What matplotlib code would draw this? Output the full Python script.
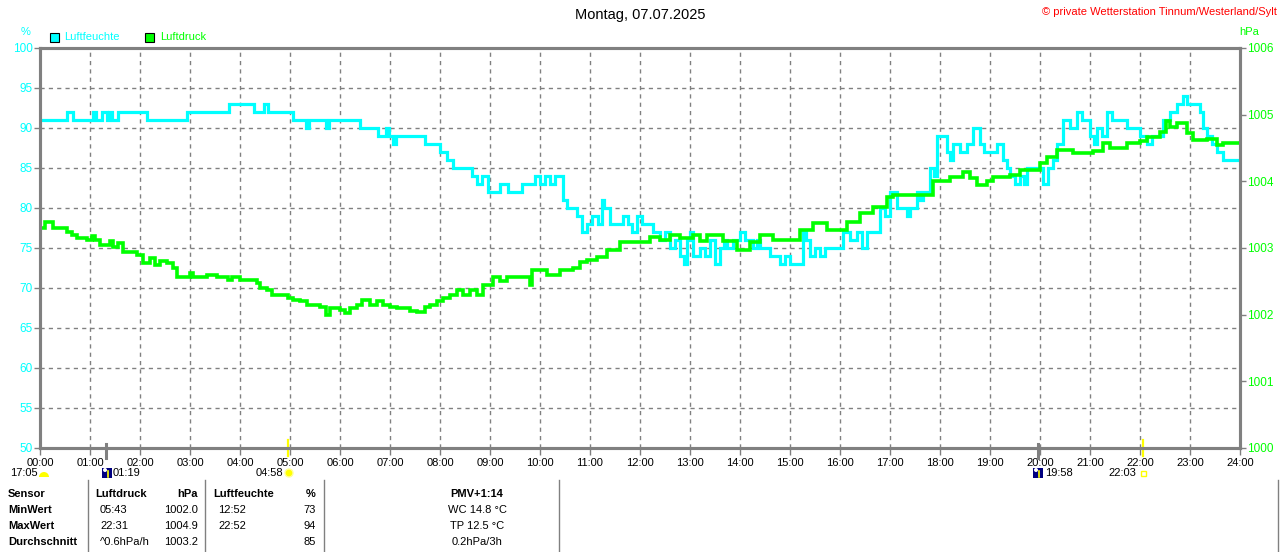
import matplotlib
matplotlib.use("Agg")
import matplotlib.pyplot as plt
from matplotlib.patches import Rectangle, Circle, Wedge
from matplotlib.lines import Line2D
from matplotlib.transforms import blended_transform_factory, IdentityTransform

plt.rcParams['font.family'] = ['Liberation Sans', 'DejaVu Sans']

W, H = 1280, 552

# Luftfeuchte (%), Minuten seit 00:00
hum_min = [0, 32, 40, 64, 67, 74, 80, 83, 86, 94, 128, 176, 227, 257, 269, 274, 304, 319, 323, 343,
           347, 384, 406, 415, 419, 424, 427, 462, 480, 488, 496, 518, 524, 530, 538, 552, 562, 578,
           594, 600, 606, 612, 618, 628, 632, 644, 650, 656, 662, 670, 674, 677, 684, 700, 706, 710,
           716, 722, 736, 744, 750, 756, 762, 768, 773, 776, 780, 784, 792, 798, 804, 810, 816, 821,
           824, 832, 840, 846, 856, 860, 864, 876, 888, 894, 900, 916, 919, 924, 930, 936, 942, 964,
           972, 980, 986, 992, 1008, 1014, 1020, 1028, 1040, 1044, 1052, 1056, 1060, 1068, 1073, 1076,
           1088, 1092, 1096, 1104, 1112, 1120, 1128, 1133, 1148, 1156, 1160, 1164, 1170, 1176, 1181,
           1184, 1204, 1210, 1216, 1220, 1228, 1236, 1244, 1250, 1260, 1265, 1268, 1274, 1280, 1286,
           1304, 1320, 1328, 1334, 1348, 1356, 1364, 1372, 1376, 1392, 1396, 1400, 1406, 1412, 1420, 1440]
hum_val = [91, 92, 91, 92, 91, 92, 91, 92, 91, 92, 91, 92, 93, 92, 93, 92, 91, 90, 91, 90,
           91, 90, 89, 90, 89, 88, 89, 88, 87, 86, 85, 84, 83, 84, 82, 83, 82, 83,
           84, 83, 84, 83, 84, 81, 80, 79, 77, 78, 79, 78, 81, 80, 78, 79, 78, 77,
           79, 78, 77, 76, 77, 75, 76, 74, 73, 76, 77, 74, 75, 74, 76, 73, 75, 76,
           75, 76, 77, 76, 75, 76, 75, 74, 73, 74, 73, 77, 76, 74, 75, 74, 75, 77,
           76, 77, 75, 77, 80, 79, 82, 80, 79, 80, 82, 81, 82, 85, 84, 89,
           87, 86, 88, 87, 88, 90, 88, 87, 88, 86, 85, 84, 83, 84, 83,
           85, 83, 85, 86, 88, 91, 90, 92, 91, 89, 88, 90, 89, 92, 91,
           90, 89, 88, 89, 91, 92, 93, 94, 93, 92, 90, 89, 88, 87, 86, 86]

# Luftdruck (hPa)
prs_min = [0, 6, 16, 32, 38, 44, 56, 62, 66, 72, 84, 88, 94, 100, 116, 124, 132, 138, 144, 152, 160,
           164, 180, 184, 200, 212, 226, 230, 240, 260, 264, 272, 278, 298, 304, 312, 320, 336, 343,
           348, 360, 366, 372, 380, 386, 396, 404, 412, 420, 428, 444, 452, 462, 468, 476, 484, 492,
           500, 508, 516, 524, 532, 544, 552, 560, 588, 590, 608, 624, 640, 648, 656, 668, 680, 696,
           732, 744, 756, 768, 784, 792, 800, 820, 836, 852, 864, 880, 912, 928, 944, 968, 984, 1000,
           1016, 1024, 1072, 1092, 1108, 1116, 1124, 1136, 1144, 1164, 1176, 1200, 1208, 1220, 1240,
           1264, 1276, 1284, 1304, 1320, 1328, 1344, 1351, 1356, 1364, 1376, 1384, 1400, 1412, 1420, 1440]
prs_val = [1003.30, 1003.39, 1003.30, 1003.24, 1003.20, 1003.15, 1003.12, 1003.18, 1003.12, 1003.05,
           1003.10, 1003.02, 1003.07, 1002.94, 1002.90, 1002.78, 1002.85, 1002.75, 1002.80, 1002.78,
           1002.70, 1002.57, 1002.63, 1002.57, 1002.60, 1002.57, 1002.52, 1002.57, 1002.52, 1002.47,
           1002.40, 1002.37, 1002.30, 1002.25, 1002.22, 1002.20, 1002.15, 1002.12, 1002.00, 1002.10,
           1002.07, 1002.02, 1002.10, 1002.15, 1002.22, 1002.15, 1002.20, 1002.15, 1002.12, 1002.10,
           1002.05, 1002.04, 1002.12, 1002.15, 1002.20, 1002.25, 1002.30, 1002.37, 1002.30, 1002.37,
           1002.30, 1002.44, 1002.57, 1002.50, 1002.57, 1002.45, 1002.67, 1002.60, 1002.67, 1002.70,
           1002.79, 1002.82, 1002.87, 1002.97, 1003.09, 1003.17, 1003.12, 1003.20, 1003.15, 1003.20,
           1003.10, 1003.20, 1003.10, 1002.97, 1003.09, 1003.20, 1003.12, 1003.27, 1003.37, 1003.27,
           1003.39, 1003.52, 1003.62, 1003.77, 1003.80, 1004.00, 1004.07, 1004.14, 1004.05, 1003.95,
           1004.00, 1004.07, 1004.10, 1004.17, 1004.27, 1004.37, 1004.47, 1004.42, 1004.45, 1004.57,
           1004.50, 1004.57, 1004.60, 1004.67, 1004.74, 1004.90, 1004.82, 1004.87, 1004.72, 1004.62,
           1004.64, 1004.55, 1004.57, 1004.57]

hour_labels = ["%02d:00" % h for h in range(25)]
hum_ticks = [50, 55, 60, 65, 70, 75, 80, 85, 90, 95, 100]
prs_ticks = [1000, 1001, 1002, 1003, 1004, 1005, 1006]

# Sonne/Mond Ereignisse (Stunden)
moon_events = [1 + 19 / 60, 19 + 58 / 60]
sun_events = [4 + 58 / 60, 22 + 3 / 60]

table_rows = [
    ["Sensor", "Luftdruck", "hPa", "Luftfeuchte", "%", "PMV+1:14"],
    ["MinWert", "05:43", "1002.0", "12:52", "73", "WC 14.8 °C"],
    ["MaxWert", "22:31", "1004.9", "22:52", "94", "TP 12.5 °C"],
    ["Durchschnitt", "^0.6hPa/h", "1003.2", "", "85", "0.2hPa/3h"],
]

CYAN = "#00ffff"
GREEN = "#00ff00"
GRAY = "#808080"
YEL = "#ffff00"
NAVY = "#000080"


def fx(x):
    return x / W


def fy(y):
    return 1 - y / H


fig = plt.figure(figsize=(W / 100, H / 100), dpi=100)
ax = fig.add_axes([fx(40), fy(448), 1200 / W, 400 / H])
ax2 = ax.twinx()

ax.plot([m / 60 for m in hum_min], hum_val, drawstyle="steps-post", color=CYAN, lw=2.3,
        solid_joinstyle="miter")
ax2.plot([m / 60 for m in prs_min], prs_val, drawstyle="steps-post", color=GREEN, lw=2.6,
         solid_joinstyle="miter")

ax.set_xlim(0, 24)
ax.set_ylim(50, 100)
ax2.set_ylim(1000, 1006)
ax.set_xticks(range(25))
ax.set_xticklabels(hour_labels)
ax.set_yticks(hum_ticks)
ax2.set_yticks(prs_ticks)

ax.grid(True, color=GRAY, ls=(0, (3, 3)), lw=1)
for a in (ax, ax2):
    for s in a.spines.values():
        s.set_color(GRAY)
        s.set_linewidth(2.2)
ax.tick_params(axis="x", colors=GRAY, labelcolor="black", labelsize=8, length=5, width=1, pad=2)
ax.tick_params(axis="y", colors=GRAY, labelcolor=CYAN, labelsize=8.5, length=4, width=1, pad=1)
ax2.tick_params(axis="y", colors=GRAY, labelcolor=GREEN, labelsize=8.5, length=4, width=1, pad=1)

# Ereignis-Striche an der Zeitachse
tr = blended_transform_factory(ax.transData, ax.transAxes)
for t in moon_events:
    ax.plot([t, t], [0.01, -0.025], transform=tr, color=GRAY, lw=2.2, clip_on=False)
for t in sun_events:
    ax.plot([t, t], [0.02, -0.02], transform=tr, color=YEL, lw=1.6, clip_on=False)

# Titel und Kopf
fig.text(0.5, fy(15), "Montag, 07.07.2025", ha="center", va="center", fontsize=10.5)
fig.text(fx(1277), fy(12), "© private Wetterstation Tinnum/Westerland/Sylt", ha="right",
         va="center", fontsize=8, color="red")
fig.text(fx(26), fy(32), "%", ha="center", va="center", fontsize=8, color=CYAN)
fig.text(fx(1249), fy(32), "hPa", ha="center", va="center", fontsize=8, color=GREEN)
fig.add_artist(Rectangle((fx(50), fy(42)), 9 / W, 9 / H, transform=fig.transFigure,
                         facecolor=CYAN, edgecolor="black", lw=0.8))
fig.text(fx(64), fy(37), "Luftfeuchte", va="center", fontsize=8, color=CYAN)
fig.add_artist(Rectangle((fx(145), fy(42)), 9 / W, 9 / H, transform=fig.transFigure,
                         facecolor=GREEN, edgecolor="black", lw=0.8))
fig.text(fx(160), fy(37), "Luftdruck", va="center", fontsize=8, color=GREEN)

# Sonne/Mond Beschriftung unter der Achse (Icons in Pixeln)
px = IdentityTransform()
fig.text(fx(38), fy(473), "17:05", ha="right", va="center", fontsize=8)
fig.add_artist(Wedge((44, H - 477), 5, 0, 180, transform=px, facecolor=YEL, edgecolor="none"))
for x0 in (102, 1033):
    fig.add_artist(Rectangle((x0, H - 478), 10, 10, transform=px, facecolor=NAVY,
                             edgecolor="none"))
    fig.add_artist(Circle((x0 + 3, H - 470), 2, transform=px, facecolor="white",
                          edgecolor="none"))
    fig.add_artist(Line2D([x0 + 6, x0 + 6], [H - 477, H - 471], transform=px, color=YEL, lw=1.2))
fig.text(fx(113), fy(473), "01:19", va="center", fontsize=8)
fig.text(fx(283), fy(473), "04:58", ha="right", va="center", fontsize=8)
fig.add_artist(Circle((289, H - 473), 4, transform=px, facecolor=YEL, edgecolor="#ffff99", lw=1))
fig.text(fx(1045), fy(473), "19:58", va="center", fontsize=8)
fig.text(fx(1136), fy(473), "22:03", ha="right", va="center", fontsize=8)
fig.add_artist(Rectangle((1141, H - 476), 5, 5, transform=px, facecolor="none",
                         edgecolor=YEL, lw=1))

# Tabelle
for xs in (88, 205, 324, 559, 1278):
    fig.add_artist(Line2D([fx(xs), fx(xs)], [fy(480), fy(552)], transform=fig.transFigure,
                          color=GRAY, lw=1))
row_y = [494, 510, 526, 542]
for i, row in enumerate(table_rows):
    y = fy(row_y[i])
    hdr = "bold" if i == 0 else "normal"
    fig.text(fx(8), y, row[0], va="center", fontsize=8, fontweight="bold")
    fig.text(fx(95 if i == 0 else 100), y, row[1], va="center", fontsize=8, fontweight=hdr)
    fig.text(fx(198), y, row[2], ha="right", va="center", fontsize=8, fontweight=hdr)
    fig.text(fx(213 if i == 0 else 218), y, row[3], va="center", fontsize=8, fontweight=hdr)
    fig.text(fx(316), y, row[4], ha="right", va="center", fontsize=8, fontweight=hdr)
    fig.text(fx(477), y, row[5], ha="center", va="center", fontsize=8, fontweight=hdr)

fig.savefig("out.png", dpi=100)
